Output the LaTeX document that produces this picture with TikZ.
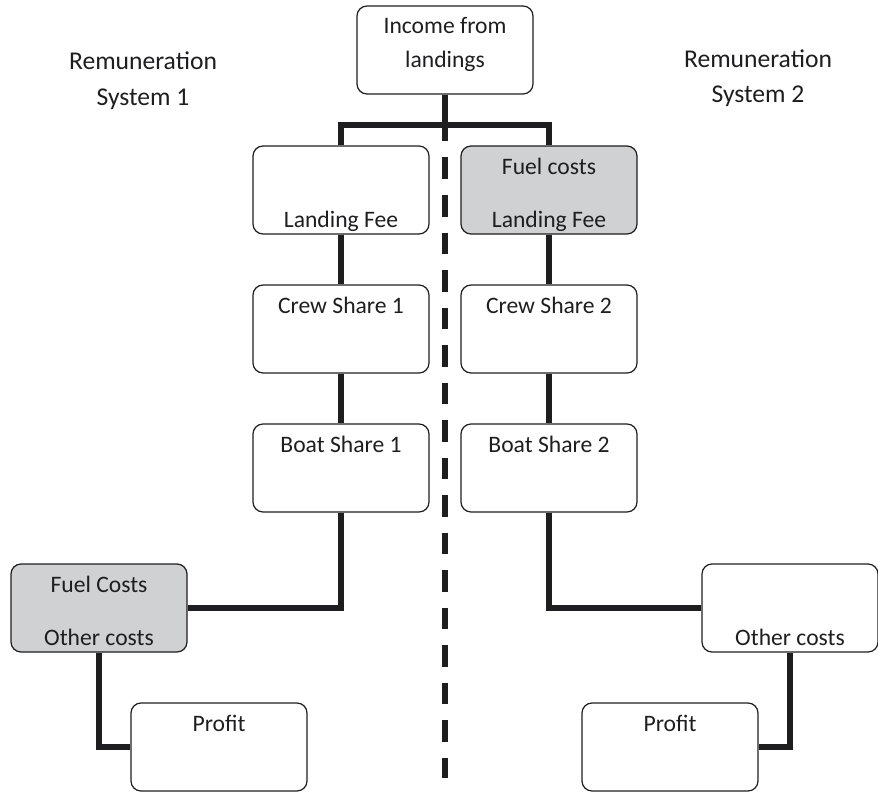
\documentclass[tikz,border=0pt]{standalone}
\usepackage{fontspec}
\setmainfont{Carlito}
\definecolor{boxgray}{RGB}{208,209,211}
\definecolor{inkline}{RGB}{30,30,32}
\usetikzlibrary{positioning}

\begin{document}
\begin{tikzpicture}[x=0.5pt,y=-0.5pt,
  box/.style={draw=inkline,line width=0.6pt,rounded corners=5pt,minimum width=88pt,minimum height=44pt,inner sep=0pt,align=center,font=\fontsize{11.8}{14}\selectfont,text=inkline,text height=14pt,text depth=30pt},
  lowtext/.style={text height=40.5pt,text depth=3.5pt},
  shaded/.style={fill=boxgray},
  link/.style={inkline,line width=2.8pt},
  divider/.style={inkline,line width=2.6pt,dash pattern=on 10.75pt off 8pt},
  heading/.style={align=center,font=\fontsize{12.8}{17.5}\selectfont,text=inkline}]
  \useasboundingbox (0,0) rectangle (878,792);
  % the two remuneration systems
  \node[heading,anchor=base] (sys1) at (143,105) {Remuneration\\System 1};
  \node[heading,anchor=base] (sys2) at (758,103) {Remuneration\\System 2};
  \coordinate (divtop) at (445,120);
  \coordinate (divbot) at (445,778);
  \draw[divider] (divtop) -- (divbot);
  % boxes
  \node[box,text height=31pt,text depth=13pt] (income) at (445,50) {Income from\\[3pt]landings};
  \node[box,lowtext] (fee1) at (341,190) {Landing Fee};
  \node[box,shaded,lowtext] (fee2) at (549,190) {Fuel costs\\[12.5pt]Landing Fee};
  \node[box] (crew1) at (341,329) {Crew Share 1};
  \node[box] (crew2) at (549,329) {Crew Share 2};
  \node[box] (boat1) at (341,468) {Boat Share 1};
  \node[box] (boat2) at (549,468) {Boat Share 2};
  \node[box,shaded,lowtext] (costs1) at (99,608) {Fuel Costs\\[12.5pt]Other costs};
  \node[box,lowtext] (costs2) at (790,608) {Other costs};
  \node[box] (profit1) at (219,747) {Profit};
  \node[box] (profit2) at (670,747) {Profit};
  % connectors
  \coordinate (split) at (445,125);
  \draw[link] (income) -- (split);
  \draw[link] (fee1.north) |- (split) -| (fee2.north);
  \foreach \side in {1,2} {
    \draw[link] (fee\side) -- (crew\side);
    \draw[link] (crew\side) -- (boat\side);
  }
  \draw[link] (boat1.south) |- (costs1.east);
  \draw[link] (boat2.south) |- (costs2.west);
  \draw[link] (costs1.south) |- (profit1.west);
  \draw[link] (costs2.south) |- (profit2.east);
\end{tikzpicture}
\end{document}
